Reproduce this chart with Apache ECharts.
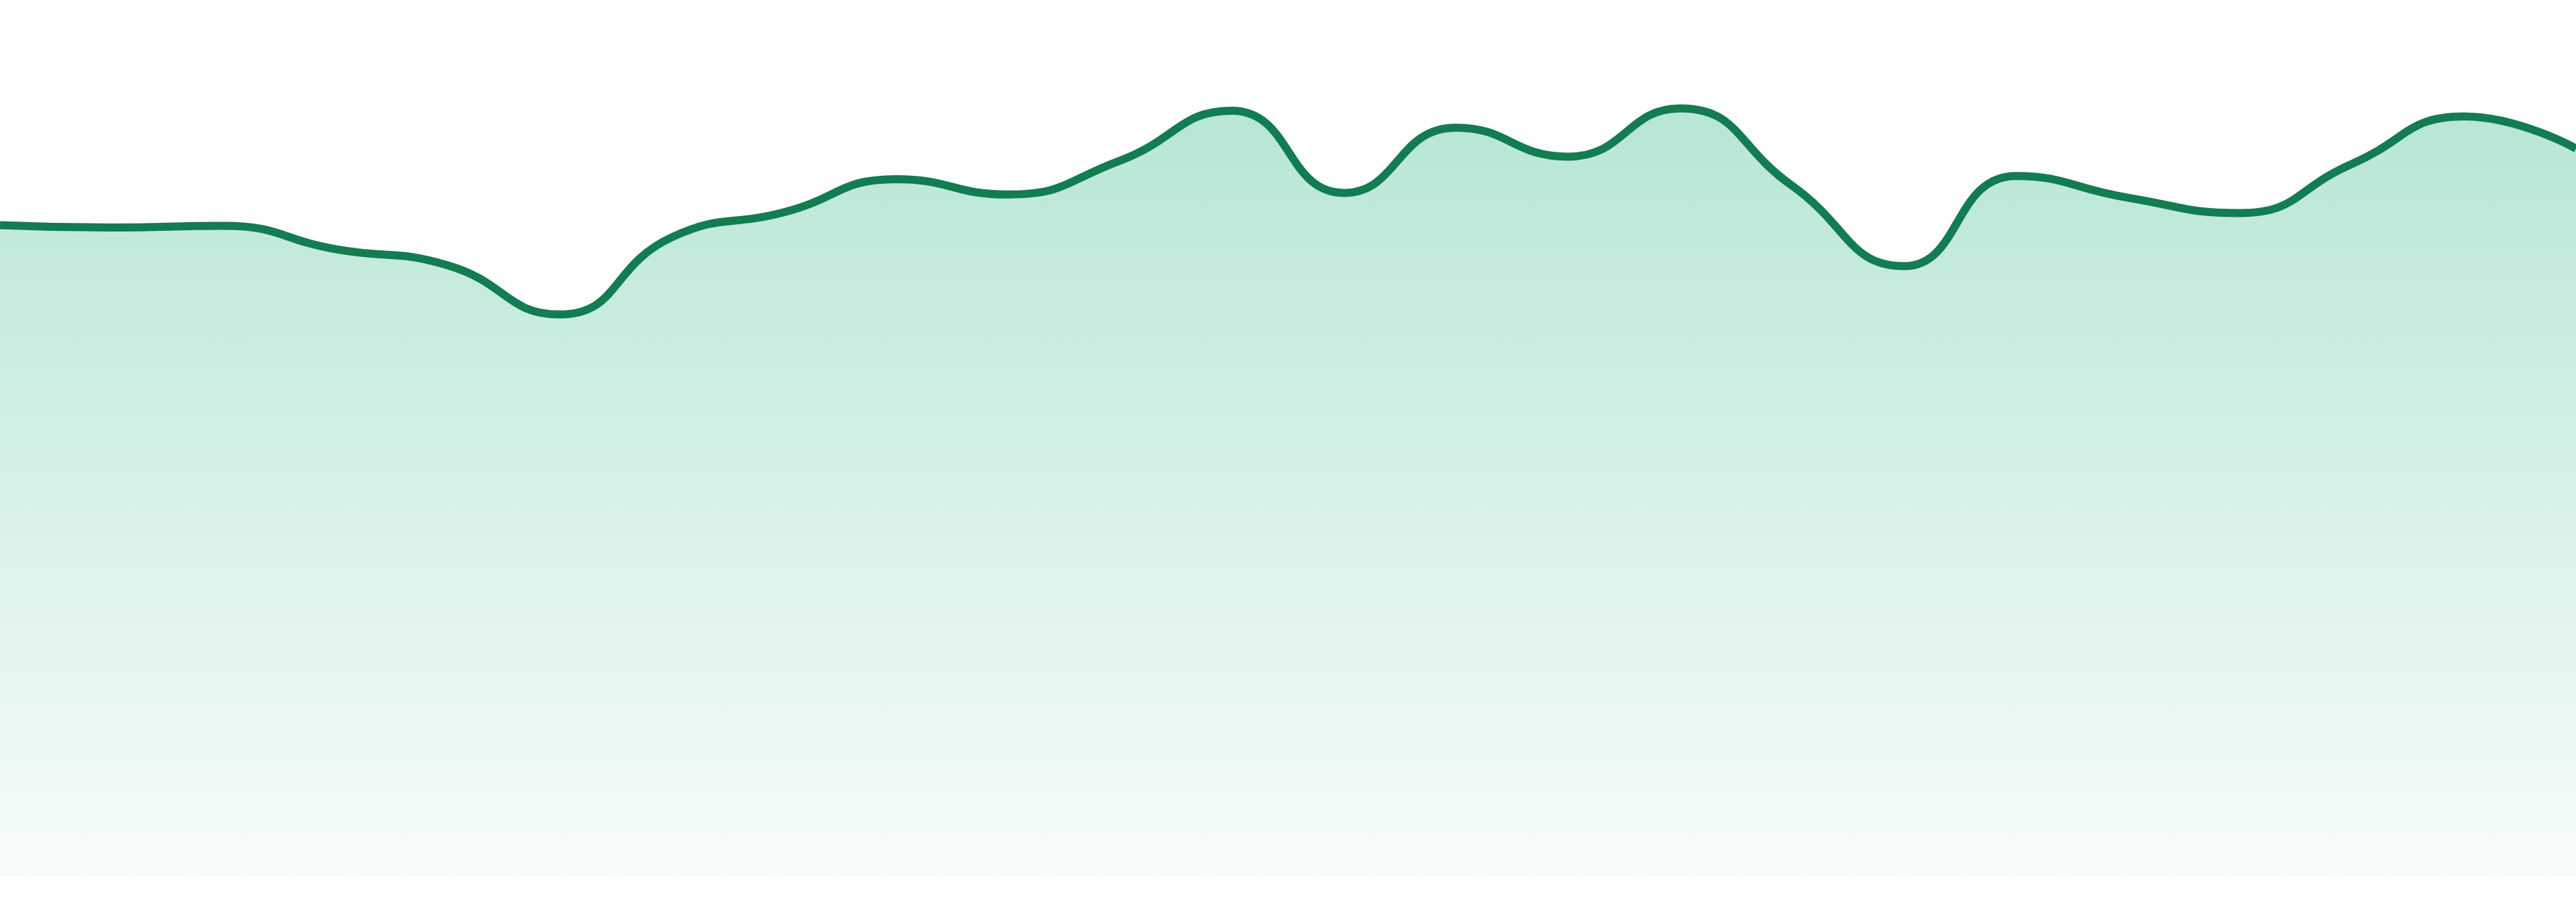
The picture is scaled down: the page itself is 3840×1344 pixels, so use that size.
<!DOCTYPE html>
<html>
<head>
<meta charset="utf-8">
<script src="https://cdn.jsdelivr.net/npm/echarts@6/dist/echarts.min.js"></script>
<style>
html,body{margin:0;padding:0;background:#ffffff;overflow:hidden;}
#chart{width:100vw;height:100vh;}
</style>
</head>
<body>
<div id="chart"></div>
<script>
const categories = ['1','2','3','4','5','6','7','8','9','10','11','12','13','14','15','16','17','18','19','20','21','22','23','24'];
const values = [80.8, 80.5, 80.7, 77.8, 75.8, 69.7, 79.3, 82.4, 86.5, 84.6, 88.8, 95.0, 84.8, 92.9, 89.3, 95.3, 85.7, 75.7, 86.9, 84.2, 82.3, 88.4, 94.3, 90.3];

const chart = echarts.init(document.getElementById('chart'));
const H = chart.getHeight();
const S = H / 1344;
chart.setOption({
  animation: false,
  backgroundColor: '#ffffff',
  grid: { left: 0, right: 0, top: 105 * S, bottom: 39 * S },
  xAxis: {
    type: 'category',
    data: categories,
    boundaryGap: false,
    show: false
  },
  yAxis: {
    type: 'value',
    min: 0,
    max: 100,
    show: false
  },
  series: [{
    type: 'line',
    data: values,
    smooth: 0.5,
    symbol: 'none',
    lineStyle: { color: '#127C52', width: 12 * S },
    areaStyle: {
      opacity: 1,
      color: {
        type: 'linear', x: 0, y: 0, x2: 0, y2: 1,
        colorStops: [
          { offset: 0, color: 'rgba(43,182,131,0.34)' },
          { offset: 1, color: 'rgba(43,182,131,0.04)' }
        ]
      }
    }
  }]
});
</script>
</body>
</html>
